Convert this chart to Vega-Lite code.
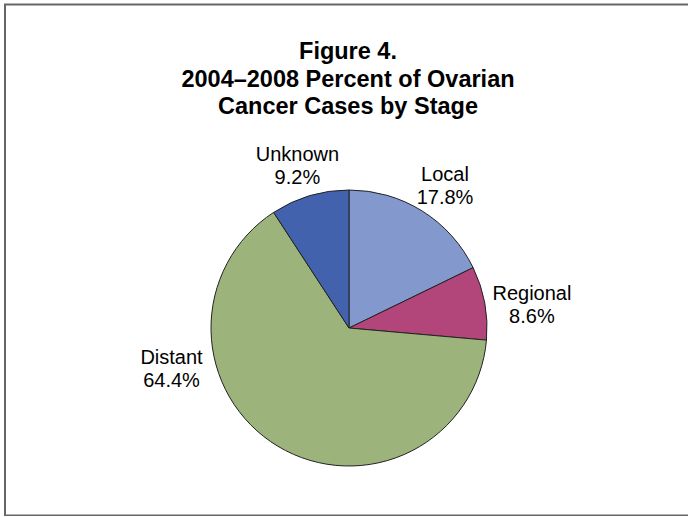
{
  "$schema": "https://vega.github.io/schema/vega-lite/v6.json",
  "width": 686,
  "height": 511,
  "autosize": {"type": "none"},
  "padding": {"left": 5, "top": 4.5, "right": 0, "bottom": 0},
  "background": "white",
  "view": {"stroke": "#666666", "strokeWidth": 2, "fill": "white"},
  "config": {
    "view": {"stroke": "#666666", "strokeWidth": 2},
    "font": "Liberation Sans, Arial, sans-serif"
  },
  "title": {
    "text": ["Figure 4.", "2004–2008 Percent of Ovarian", "Cancer Cases by Stage"],
    "anchor": "middle",
    "frame": "group",
    "orient": "top",
    "baseline": "top",
    "offset": -114,
    "fontSize": 23.5,
    "fontWeight": "bold",
    "lineHeight": 27.5,
    "color": "black",
    "font": "Liberation Sans, Arial, sans-serif"
  },
  "data": {
    "values": [
      {"stage": "Local", "pct": 17.8},
      {"stage": "Regional", "pct": 8.6},
      {"stage": "Distant", "pct": 64.4},
      {"stage": "Unknown", "pct": 9.2}
    ]
  },
  "transform": [
    {"window": [{"op": "row_number", "as": "idx"}]},
    {"calculate": "[datum.stage, format(datum.pct, '.1f') + '%']", "as": "label"}
  ],
  "encoding": {
    "theta": {"field": "pct", "type": "quantitative", "stack": true},
    "order": {"field": "idx", "type": "quantitative"}
  },
  "layer": [
    {
      "mark": {
        "type": "arc",
        "outerRadius": 138,
        "stroke": "#222222",
        "strokeWidth": 1,
        "x": {"expr": "width / 2 + 1"},
        "y": {"expr": "height / 2 + 68"}
      },
      "encoding": {
        "color": {
          "field": "stage",
          "type": "nominal",
          "scale": {
            "domain": ["Local", "Regional", "Distant", "Unknown"],
            "range": ["#8399cd", "#b2467b", "#9cb47b", "#4262ae"]
          },
          "legend": null
        }
      }
    },
    {
      "mark": {
        "type": "text",
        "radius": 181,
        "fontSize": 20,
        "lineHeight": 23,
        "align": "center",
        "baseline": "middle",
        "color": "black",
        "x": {"expr": "width / 2 + 1"},
        "y": {"expr": "height / 2 + 68"}
      },
      "encoding": {
        "text": {
          "condition": {"test": "datum.stage === 'Local' || datum.stage === 'Unknown'", "field": "label"},
          "value": ""
        }
      }
    },
    {
      "mark": {
        "type": "text",
        "radius": 186,
        "fontSize": 20,
        "lineHeight": 23,
        "align": "center",
        "baseline": "middle",
        "color": "black",
        "x": {"expr": "width / 2 + 1"},
        "y": {"expr": "height / 2 + 68"}
      },
      "encoding": {
        "text": {
          "condition": {"test": "datum.stage === 'Regional'", "field": "label"},
          "value": ""
        }
      }
    },
    {
      "mark": {
        "type": "text",
        "radius": 180,
        "thetaOffset": 0.862,
        "fontSize": 20,
        "lineHeight": 23,
        "align": "center",
        "baseline": "middle",
        "color": "black",
        "x": {"expr": "width / 2 + 1"},
        "y": {"expr": "height / 2 + 68"}
      },
      "encoding": {
        "text": {
          "condition": {"test": "datum.stage === 'Distant'", "field": "label"},
          "value": ""
        }
      }
    }
  ]
}
